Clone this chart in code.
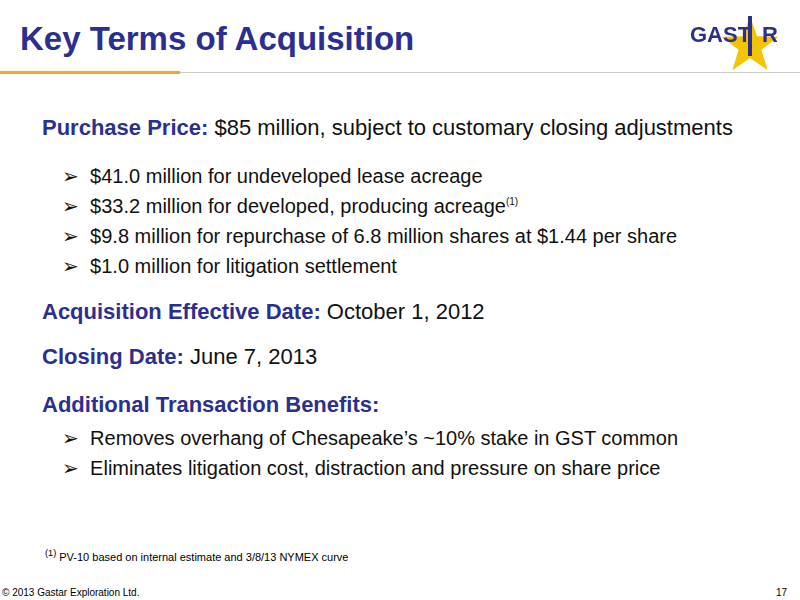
<!DOCTYPE html>
<html><head><meta charset="utf-8">
<script src="https://cdn.jsdelivr.net/npm/chart.js"></script>
<style>
body{margin:0;width:800px;height:600px;position:relative;font-family:"Liberation Sans",Arial,sans-serif;background:#fff;overflow:hidden}
.t{position:absolute;white-space:nowrap}
h1{position:absolute;left:20px;top:20px;margin:0;font-size:33px;color:#2B2F8F;font-weight:bold}
.hl{color:#2B2F8F;font-weight:bold}
.b{font-size:20px;color:#111}
.m{font-size:22px}
</style></head><body>
<h1>Key Terms of Acquisition</h1>
<div style="position:absolute;left:0;top:71px;width:180px;height:3px;background:#F5A623"></div>
<div style="position:absolute;left:180px;top:72px;width:620px;height:1px;background:#ccc"></div>
<canvas id="logo" width="110" height="70" style="position:absolute;left:688px;top:6px"></canvas>
<div id="body"></div>
<div class="t" style="left:45px;top:548px;font-size:11px"><sup>(1)</sup> PV-10 based on internal estimate and 3/8/13 NYMEX curve</div>
<div class="t" style="left:2px;top:587px;font-size:10px">© 2013 Gastar Exploration Ltd.</div>
<div class="t" style="left:776px;top:587px;font-size:10px">17</div>
<script>
// Состав цены покупки
const amounts = ['$41.0', '$33.2', '$9.8', '$1.0'];
const purposes = ['million for undeveloped lease acreage', 'million for developed, producing acreage',
  'million for repurchase of 6.8 million shares at $1.44 per share', 'million for litigation settlement'];
const notes = ['', '(1)', '', ''];
const benefits = ['Removes overhang of Chesapeake’s ~10% stake in GST common',
  'Eliminates litigation cost, distraction and pressure on share price'];

const body = document.getElementById('body');
function line(x, y, html, cls) {
  const d = document.createElement('div');
  d.className = 't b ' + (cls || ''); d.style.left = x + 'px'; d.style.top = y + 'px';
  d.innerHTML = html; body.appendChild(d);
}
line(42, 115, '<span class="hl">Purchase Price:</span> $85 million, subject to customary closing adjustments', 'm');
amounts.forEach((a, i) => line(62, 164 + i * 30, '➢&nbsp;&nbsp;' + a + ' ' + purposes[i] +
  (notes[i] ? '<span style="font-size:10px;vertical-align:super">' + notes[i] + '</span>' : '')));
line(42, 299, '<span class="hl">Acquisition Effective Date:</span> October 1, 2012', 'm');
line(42, 344, '<span class="hl">Closing Date:</span> June 7, 2013', 'm');
line(42, 392, '<span class="hl">Additional Transaction Benefits:</span>', 'm');
benefits.forEach((b, i) => line(62, 426 + i * 30, '➢&nbsp;&nbsp;' + b));

// Логотип
const ctx = document.getElementById('logo').getContext('2d');
ctx.fillStyle = '#F5C400';
ctx.beginPath();
for (let k = 0; k < 10; k++) {
  const r = k % 2 ? 12 : 30, ang = -Math.PI / 2 + k * Math.PI / 5;
  ctx.lineTo(62 + r * Math.cos(ang), 40 + r * Math.sin(ang));
}
ctx.fill();
ctx.fillStyle = '#2B2F8F';
ctx.font = 'bold 22px "Liberation Sans"';
ctx.fillText('GAST', 2, 36);
ctx.fillText('R', 74, 36);
ctx.fillRect(60, 10, 4, 40);
</script>
</body></html>
